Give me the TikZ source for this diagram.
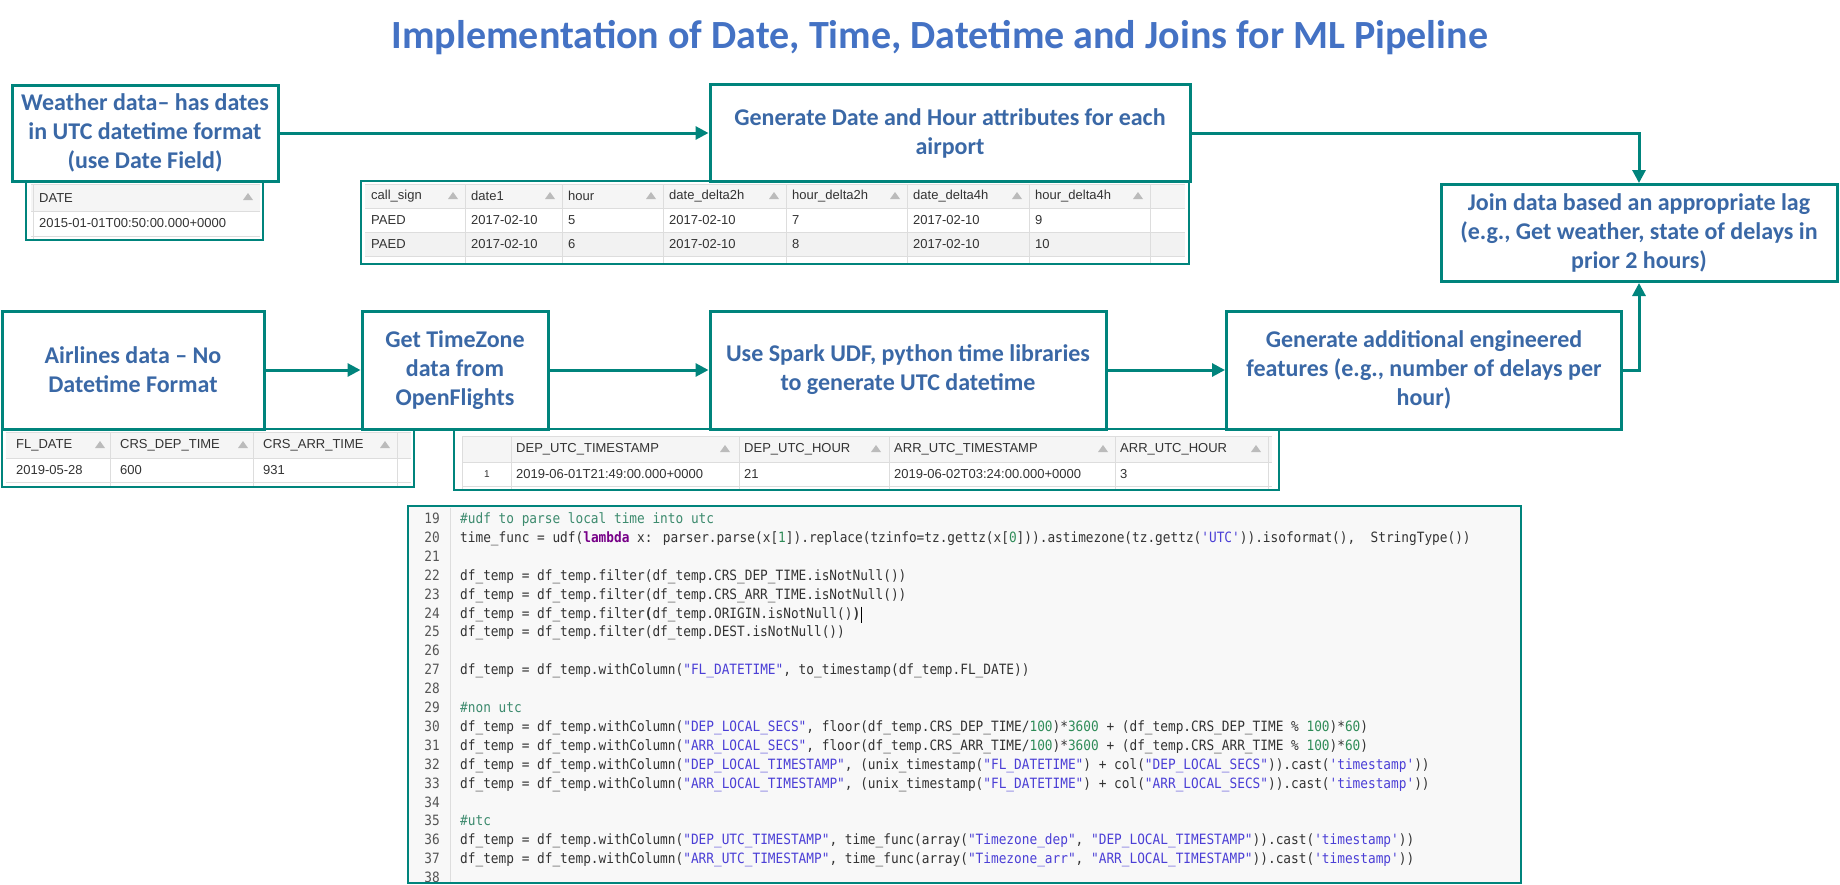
\documentclass[tikz,border=0pt]{standalone}
\usepackage{fontspec}
\setmainfont{Carlito}
\newfontfamily\tabfont{Liberation Sans}
\newfontfamily\codefont[FakeStretch=0.9]{DejaVu Sans Mono}
\usetikzlibrary{arrows.meta, positioning}
\definecolor{tealcol}{HTML}{00847C}
\definecolor{textcol}{HTML}{3A68A6}
\definecolor{titlecol}{HTML}{4472C4}
\definecolor{gridcol}{HTML}{DDDDDD}
\definecolor{headcol}{HTML}{F5F5F5}
\definecolor{rowcol}{HTML}{F2F2F2}
\definecolor{cellcol}{HTML}{333333}
\definecolor{tricol}{HTML}{BBBBBB}
\definecolor{codebg}{HTML}{F8F8F8}
\definecolor{commentcol}{HTML}{3D8B6E}
\definecolor{strcol}{HTML}{4B3FD6}
\definecolor{numcol}{HTML}{2E8B57}
\definecolor{kwcol}{HTML}{770088}
\definecolor{codecol}{HTML}{333333}
\definecolor{lnumcol}{HTML}{555555}
\newcommand\ccm[1]{\textcolor{commentcol}{#1}}
\newcommand\cstr[1]{\textcolor{strcol}{#1}}
\newcommand\cnum[1]{\textcolor{numcol}{#1}}
\newcommand\ckw[1]{\textcolor{kwcol}{\bfseries #1}}
\tikzset{
  stepbox/.style={draw=tealcol, line width=3pt, fill=white, text=textcol, align=center,
    font=\bfseries\fontsize{24}{29}\selectfont, inner sep=0pt},
  titletext/.style={text=titlecol, font=\bfseries\fontsize{40}{48}\selectfont, inner sep=0pt},
  flow/.style={draw=tealcol, line width=3pt, -{Triangle[length=13pt, width=13pt]}},
  tabframe/.style={draw=tealcol, line width=2.5pt},
  gridline/.style={draw=gridcol, line width=1pt},
  cell/.style={anchor=west, inner sep=0pt, text=cellcol, font=\tabfont\fontsize{13}{15}\selectfont},
  lnum/.style={anchor=east, inner sep=0pt, text=lnumcol, text height=10pt, text depth=3pt,
    font=\codefont\fontsize{14.2}{19}\selectfont},
  codeline/.style={anchor=west, inner sep=0pt, text=codecol, text height=10pt, text depth=3pt,
    font=\codefont\fontsize{14.2}{19}\selectfont},
  sorttri/.pic={\fill[tricol] (-5,3) -- (5,3) -- (0,-4) -- cycle;},
}

\begin{document}
\begin{tikzpicture}[x=1pt, y=-1pt]
  \fill[white] (0,0) rectangle (1840,884);
  \useasboundingbox (0,0) rectangle (1840,884);

  \node[titletext] (title) at (940,38) {Implementation of Date, Time, Datetime and Joins for ML Pipeline};

  % DATE table
  \fill[headcol] (31,184) rectangle (260,211);
  \foreach \y in {184,211,236} \draw[gridline] (31,\y) -- (260,\y);
  \draw[gridline] (33,184) -- (33,240);
  \node[cell] (dt-h1) at (39,198) {DATE};
  \pic at (248,197) {sorttri};
  \node[cell] (dt-r1) at (39,223) {2015-01-01T00:50:00.000+0000};
  \draw[tabframe] (26,181) rectangle (263,240);

  % call_sign table
  \fill[headcol] (365,184) rectangle (1185,208);
  \fill[rowcol] (365,232) rectangle (1185,256);
  \foreach \y in {184,208,232,256} \draw[gridline] (365,\y) -- (1185,\y);
  \foreach \x in {465,562,663,786,907,1029,1150} \draw[gridline] (\x,184) -- (\x,264);
  \foreach \x/\t/\a/\b/\n in {365/453/call\_sign/PAED/1, 465/550/date1/2017-02-10/2, 562/651/hour/5/3,
      663/774/date\_delta2h/2017-02-10/4, 786/895/hour\_delta2h/7/5, 907/1017/date\_delta4h/2017-02-10/6,
      1029/1138/hour\_delta4h/9/7} {
    \node[cell] (cs-h\n) at (\x+6,196) {\a};
    \pic at (\t,196) {sorttri};
    \node[cell] (cs-r\n) at (\x+6,220) {\b};
  }
  \foreach \x/\b/\n in {365/PAED/1, 465/2017-02-10/2, 562/6/3, 663/2017-02-10/4, 786/8/5,
      907/2017-02-10/6, 1029/10/7}
    \node[cell] (cs-s\n) at (\x+6,244) {\b};
  \draw[tabframe] (361,181) rectangle (1189,264);

  % FL_DATE table
  \fill[headcol] (6,432) rectangle (411,458);
  \foreach \y in {432,458,482} \draw[gridline] (6,\y) -- (411,\y);
  \foreach \x in {110,253,397} \draw[gridline] (\x,432) -- (\x,487);
  \foreach \x/\t/\a/\b/\n in {6/100/FL\_DATE/2019-05-28/1, 110/243/CRS\_DEP\_TIME/600/2,
      253/385/CRS\_ARR\_TIME/931/3} {
    \node[cell] (fl-h\n) at (\x+10,445) {\a};
    \pic at (\t,445) {sorttri};
    \node[cell] (fl-r\n) at (\x+10,470) {\b};
  }
  \draw[tabframe] (2,429) rectangle (414,487);

  % DEP_UTC table
  \fill[headcol] (462,436) rectangle (1272,462);
  \foreach \y in {436,462,486} \draw[gridline] (462,\y) -- (1272,\y);
  \foreach \x in {462,511,739,889,1115,1268} \draw[gridline] (\x,436) -- (\x,490);
  \foreach \x/\t/\a/\b/\n in {511/725/DEP\_UTC\_TIMESTAMP/2019-06-01T21:49:00.000+0000/1,
      739/876/DEP\_UTC\_HOUR/21/2, 889/1103/ARR\_UTC\_TIMESTAMP/2019-06-02T03:24:00.000+0000/3,
      1115/1256/ARR\_UTC\_HOUR/3/4} {
    \node[cell] (du-h\n) at (\x+5,449) {\a};
    \pic at (\t,449) {sorttri};
    \node[cell] (du-r\n) at (\x+5,474) {\b};
  }
  \node[cell, anchor=center, font=\tabfont\fontsize{10}{12}\selectfont] (du-idx) at (487,474) {1};
  \draw[tabframe] (454,429) rectangle (1279,490);

  % process boxes
  \node[stepbox, minimum width=266pt, minimum height=96pt] (weather) at (145,133)
    {Weather data– has dates\\in UTC datetime format\\(use Date Field)};
  \node[stepbox, minimum width=480pt, minimum height=97pt] (topgen) at (950,133)
    {Generate Date and Hour attributes for each\\airport};
  \node[stepbox, minimum width=396pt, minimum height=97pt] (join) at (1639,233)
    {Join data based an appropriate lag\\(e.g., Get weather, state of delays in\\prior 2 hours)};
  \node[stepbox, minimum width=262pt, minimum height=118pt] (airlines) at (133,370)
    {Airlines data – No\\Datetime Format};
  \node[stepbox, minimum width=186pt, minimum height=118pt] (timezone) at (455,370)
    {Get TimeZone\\data from\\OpenFlights};
  \node[stepbox, minimum width=396pt, minimum height=118pt] (spark) at (908,370)
    {Use Spark UDF, python time libraries\\to generate UTC datetime};
  \node[stepbox, minimum width=395pt, minimum height=118pt] (gen) at (1424,370)
    {Generate additional engineered\\features (e.g., number of delays per\\hour)};

  \draw[flow] (weather.east) -- (topgen.west);
  \draw[flow] (topgen.east) -| (join.north);
  \draw[flow] (airlines.east) -- (timezone.west);
  \draw[flow] (timezone.east) -- (spark.west);
  \draw[flow] (spark.east) -- (gen.west);
  \draw[flow] (gen.east) -| (join.south);

  % code cell
  \fill[codebg] (408,506) rectangle (1521,883);
  \begin{scope}
    \clip (410,508) rectangle (1519,881);
    \draw[gridline] (450,508) -- (450,883);
    \foreach \n in {19,...,38}
      \node[lnum] (ln\n) at (440,{520+(\n-19)*18.9}) {\n};
    \node[codeline] (cl19) at (460,520.0) {\ccm{\#udf to parse local time into utc}};
    \node[codeline] (cl20) at (460,538.9) {time\_func = udf(\ckw{lambda} x: parser.parse(x[\cnum{1}]).replace(tzinfo=tz.gettz(x[\cnum{0}])).astimezone(tz.gettz(\cstr{'UTC'})).isoformat(),\ \ StringType())};
    \node[codeline] (cl22) at (460,576.7) {df\_temp = df\_temp.filter(df\_temp.CRS\_DEP\_TIME.isNotNull())};
    \node[codeline] (cl23) at (460,595.6) {df\_temp = df\_temp.filter(df\_temp.CRS\_ARR\_TIME.isNotNull())};
    \node[codeline] (cl24) at (460,614.5) {df\_temp = df\_temp.filter{\bfseries(}df\_temp.ORIGIN.isNotNull(){\bfseries)}};
    \node[codeline] (cl25) at (460,633.4) {df\_temp = df\_temp.filter(df\_temp.DEST.isNotNull())};
    \node[codeline] (cl27) at (460,671.2) {df\_temp = df\_temp.withColumn(\cstr{"FL\_DATETIME"}, to\_timestamp(df\_temp.FL\_DATE))};
    \node[codeline] (cl29) at (460,709.0) {\ccm{\#non utc}};
    \node[codeline] (cl30) at (460,727.9) {df\_temp = df\_temp.withColumn(\cstr{"DEP\_LOCAL\_SECS"}, floor(df\_temp.CRS\_DEP\_TIME/\cnum{100})*\cnum{3600} + (df\_temp.CRS\_DEP\_TIME \% \cnum{100})*\cnum{60})};
    \node[codeline] (cl31) at (460,746.8) {df\_temp = df\_temp.withColumn(\cstr{"ARR\_LOCAL\_SECS"}, floor(df\_temp.CRS\_ARR\_TIME/\cnum{100})*\cnum{3600} + (df\_temp.CRS\_ARR\_TIME \% \cnum{100})*\cnum{60})};
    \node[codeline] (cl32) at (460,765.7) {df\_temp = df\_temp.withColumn(\cstr{"DEP\_LOCAL\_TIMESTAMP"}, (unix\_timestamp(\cstr{"FL\_DATETIME"}) + col(\cstr{"DEP\_LOCAL\_SECS"})).cast(\cstr{'timestamp'}))};
    \node[codeline] (cl33) at (460,784.6) {df\_temp = df\_temp.withColumn(\cstr{"ARR\_LOCAL\_TIMESTAMP"}, (unix\_timestamp(\cstr{"FL\_DATETIME"}) + col(\cstr{"ARR\_LOCAL\_SECS"})).cast(\cstr{'timestamp'}))};
    \node[codeline] (cl35) at (460,822.4) {\ccm{\#utc}};
    \node[codeline] (cl36) at (460,841.3) {df\_temp = df\_temp.withColumn(\cstr{"DEP\_UTC\_TIMESTAMP"}, time\_func(array(\cstr{"Timezone\_dep"}, \cstr{"DEP\_LOCAL\_TIMESTAMP"})).cast(\cstr{'timestamp'}))};
    \node[codeline] (cl37) at (460,860.2) {df\_temp = df\_temp.withColumn(\cstr{"ARR\_UTC\_TIMESTAMP"}, time\_func(array(\cstr{"Timezone\_arr"}, \cstr{"ARR\_LOCAL\_TIMESTAMP"})).cast(\cstr{'timestamp'}))};
    % text cursor
    \draw[black, line width=1.2pt] ([xshift=1pt]cl24.east) +(0,-8) -- +(0,8);
  \end{scope}
  \draw[tabframe] (408,506) rectangle (1521,883);
\end{tikzpicture}
\end{document}
